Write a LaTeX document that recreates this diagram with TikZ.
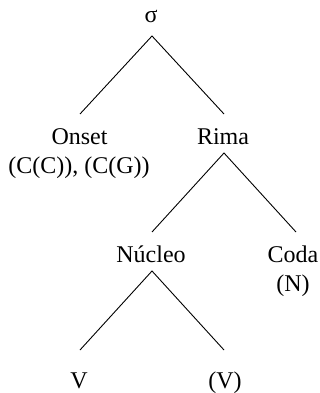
\documentclass[tikz,border=0pt]{standalone}
\usepackage{fontspec}
\setmainfont{Liberation Serif}
\begin{document}
\begin{tikzpicture}[x=1pt,y=-1pt,
  lbl/.style={anchor=base,inner sep=0pt,font=\fontsize{24}{26}\selectfont},
  branch/.style={draw=black,line width=0.9pt}]
\useasboundingbox (0,0) rectangle (320,393);
% labels
\node[lbl] (sigma) at (151,23) {σ};
\node[lbl] (onset) at (79.5,144) {Onset};
\node[lbl] (onsetx) at (79,173) {(C(C)), (C(G))};
\node[lbl] (rima) at (223,144) {Rima};
\node[lbl] (nucleo) at (151,262) {Núcleo};
\node[lbl] (coda) at (293,262) {Coda};
\node[lbl] (codax) at (293,291) {(N)};
\node[lbl] (v1) at (79,388) {V};
\node[lbl] (v2) at (225,388) {(V)};
% attachment points
\coordinate (sigmaB) at (152,36);
\coordinate (onsetT) at (80,114);
\coordinate (rimaT) at (224,114);
\coordinate (rimaB) at (224,153);
\coordinate (nucleoT) at (152,232);
\coordinate (codaT) at (296,232);
\coordinate (nucleoB) at (152,271);
\coordinate (v1T) at (80,350);
\coordinate (v2T) at (224,350);
% branches
\draw[branch] (onsetT) -- (sigmaB) -- (rimaT);
\draw[branch] (nucleoT) -- (rimaB) -- (codaT);
\draw[branch] (v1T) -- (nucleoB) -- (v2T);
\end{tikzpicture}
\end{document}
